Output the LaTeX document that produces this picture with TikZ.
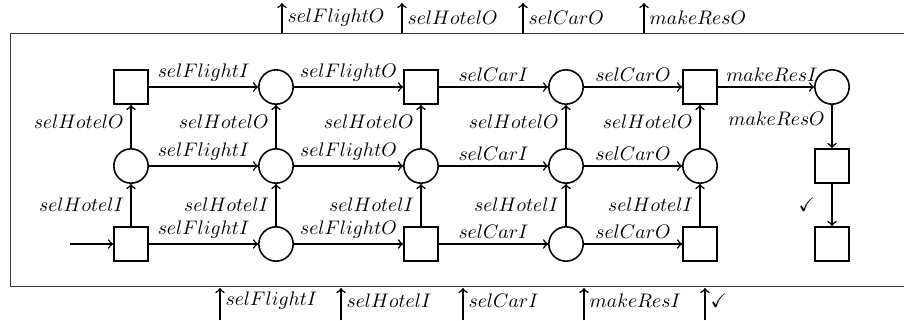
\documentclass[tikz,border=0pt]{standalone}
\usepackage{amssymb}
\begin{document}
\begin{tikzpicture}[x=0.51pt,y=-0.51pt,
  tr/.style={draw,thick,minimum size=17.5pt,inner sep=0pt},
  pl/.style={draw,thick,circle,minimum size=17.5pt,inner sep=0pt},
  arr/.style={->,thick},
  lab/.style={inner sep=2.5pt},
  vlab/.style={left,inner sep=3.3pt}]
\useasboundingbox (0,0) rectangle (904,320);
\draw[line width=0.5pt,black!80] (904,33) -- (10,33) -- (10,286) -- (904,286);
% row 1
\node[tr] (a1) at (131,87) {};
\node[pl] (a2) at (276,87) {};
\node[tr] (a3) at (421,87) {};
\node[pl] (a4) at (566,87) {};
\node[tr] (a5) at (700,87) {};
\node[pl] (a6) at (832,87) {};
% row 2
\node[pl] (b1) at (131,166) {};
\node[pl] (b2) at (276,166) {};
\node[pl] (b3) at (421,166) {};
\node[pl] (b4) at (566,166) {};
\node[pl] (b5) at (700,166) {};
\node[tr] (b6) at (832,166) {};
% row 3
\node[tr] (c1) at (131,244) {};
\node[pl] (c2) at (276,244) {};
\node[tr] (c3) at (421,244) {};
\node[pl] (c4) at (566,244) {};
\node[tr] (c5) at (700,244) {};
\node[tr] (c6) at (832,244) {};
% horizontal edges
\draw[arr] (a1) -- node[above,lab] {$selFlightI$} (a2);
\draw[arr] (a2) -- node[above,lab] {$selFlightO$} (a3);
\draw[arr] (a3) -- node[above,lab] {$selCarI$} (a4);
\draw[arr] (a4) -- node[above,lab] {$selCarO$} (a5);
\draw[arr] (a5) -- node[above,lab,pos=0.56] {$makeResI$} (a6);
\draw[arr] (b1) -- node[above,lab] {$selFlightI$} (b2);
\draw[arr] (b2) -- node[above,lab] {$selFlightO$} (b3);
\draw[arr] (b3) -- node[above,lab] {$selCarI$} (b4);
\draw[arr] (b4) -- node[above,lab] {$selCarO$} (b5);
\draw[arr] (c1) -- node[above,lab] {$selFlightI$} (c2);
\draw[arr] (c2) -- node[above,lab] {$selFlightO$} (c3);
\draw[arr] (c3) -- node[above,lab] {$selCarI$} (c4);
\draw[arr] (c4) -- node[above,lab] {$selCarO$} (c5);
% vertical edges
\foreach \k in {1,...,5}{
  \draw[arr] (c\k) -- node[vlab,pos=0.5] {$selHotelI$} (b\k);
  \draw[arr] (b\k) -- node[vlab,pos=0.62] {$selHotelO$} (a\k);
}
\draw[arr] (a6) -- node[vlab,pos=0.33] {$makeResO$} (b6);
\draw[arr] (b6) -- node[vlab,xshift=-5pt] {$\checkmark$} (c6);
% input
\coordinate (in) at (70,244);
\draw[arr] (in) -- (c1);
% top outputs
\coordinate (t1s) at (282,33); \coordinate (t1e) at (282,3);
\coordinate (t2s) at (402,33); \coordinate (t2e) at (402,3);
\coordinate (t3s) at (523,33); \coordinate (t3e) at (523,3);
\coordinate (t4s) at (644,33); \coordinate (t4e) at (644,3);
\draw[arr] (t1s) -- node[right,lab] {$selFlightO$} (t1e);
\draw[arr] (t2s) -- node[right,lab] {$selHotelO$} (t2e);
\draw[arr] (t3s) -- node[right,lab] {$selCarO$} (t3e);
\draw[arr] (t4s) -- node[right,lab] {$makeResO$} (t4e);
% bottom inputs
\coordinate (u1s) at (220,320); \coordinate (u1e) at (220,288);
\coordinate (u2s) at (341,320); \coordinate (u2e) at (341,288);
\coordinate (u3s) at (463,320); \coordinate (u3e) at (463,288);
\coordinate (u4s) at (584,320); \coordinate (u4e) at (584,288);
\coordinate (u5s) at (705,320); \coordinate (u5e) at (705,288);
\draw[arr] (u1s) -- node[right,lab,pos=0.6] {$selFlightI$} (u1e);
\draw[arr] (u2s) -- node[right,lab,pos=0.6] {$selHotelI$} (u2e);
\draw[arr] (u3s) -- node[right,lab,pos=0.6] {$selCarI$} (u3e);
\draw[arr] (u4s) -- node[right,lab,pos=0.6] {$makeResI$} (u4e);
\draw[arr] (u5s) -- node[right,lab,pos=0.6] {$\checkmark$} (u5e);
\end{tikzpicture}
\end{document}
